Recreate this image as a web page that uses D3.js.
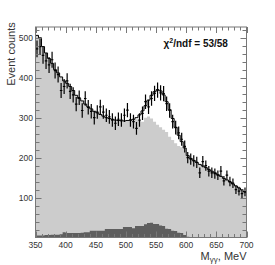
<!DOCTYPE html>
<html><head><meta charset="utf-8">
<script src="https://cdn.jsdelivr.net/npm/d3@7"></script>
<style>body{margin:0;background:#fff}svg{display:block}text{font-family:"Liberation Sans",Arial,sans-serif}</style>
</head><body>
<script>
// bin lower edges (5 MeV bins from 350 to 700)
const binEdges = d3.range(350, 700, 5);
const binWidth = 5;
// measured event counts per bin
const counts = [472,478,456,442,432,445,418,408,368,378,392,366,357,334,350,318,348,326,316,300,
  314,327,314,306,302,294,286,296,294,306,319,294,290,273,294,311,340,327,348,361,
  369,362,360,335,318,290,275,262,246,228,200,196,192,188,162,190,180,166,162,160,
  156,166,142,156,140,136,120,116,110,114];
const errors = [21,21,21,20,20,20,20,20,19,19,19,19,19,18,18,18,18,18,18,17,
  17,18,17,17,17,17,17,17,17,17,18,17,17,16,17,17,18,18,18,19,
  19,19,19,18,18,17,17,16,16,15,14,14,14,14,13,14,13,13,13,13,
  12,13,12,12,12,12,11,11,11,11];
// fit (total) histogram
const fitTotal = [506,500,478,462,448,436,420,412,402,392,386,378,368,356,348,342,334,327,322,316,
  312,308,304,300,298,296,294,293,292,292,293,294,296,300,307,317,330,344,356,365,
  370,367,357,340,320,298,276,256,240,224,205,198,193,188,183,179,175,170,166,162,
  157,153,148,144,139,134,129,124,119,114];
// non-resonant background histogram (light gray)
const bgHist = [506,500,478,462,448,436,420,412,402,392,386,378,368,356,348,342,334,327,322,316,
  312,308,304,300,298,296,294,293,292,292,293,294,296,296,292,290,300,303,298,290,
  282,276,270,264,252,244,236,229,226,222,205,198,193,188,183,179,175,170,166,162,
  157,153,148,144,139,134,129,124,119,114];
// peaking background histogram (dark gray)
const peakHist = [5,5,5,6,6,7,7,7,8,13,11,11,11,11,11,12,13,13,17,17,
  17,17,17,21,21,21,21,21,21,26,26,26,23,29,29,29,33,36,37,34,
  34,30,29,22,21,17,16,12,11,6,2,1,1,0,0,0,0,0,0,0,
  0,0,0,0,0,0,0,0,0,0];
const xTicks = [350,400,450,500,550,600,650,700];
const yTicks = [100,200,300,400,500];
const chiText = "53/58";

const W = 275, H = 265;
const L = 35.5, R = 246.5, T = 27, B = 237.5;
const svg = d3.select("body").append("svg").attr("width", W).attr("height", H);
const x = d3.scaleLinear().domain([350, 700]).range([L, R]);
const y = d3.scaleLinear().domain([0, 527]).range([B, T]);

svg.append("clipPath").attr("id","c").append("rect")
  .attr("x", L).attr("y", T).attr("width", R - L).attr("height", B - T);
const g = svg.append("g").attr("clip-path", "url(#c)");

function histPath(vals, closed) {
  let p = closed ? `M${x(350)},${y(0)}` : "";
  vals.forEach((v, i) => {
    const x0 = x(binEdges[i]), x1 = x(binEdges[i] + binWidth);
    p += (i === 0 && !closed ? "M" : "L") + `${x0},${y(v)}L${x1},${y(v)}`;
  });
  if (closed) p += `L${x(700)},${y(0)}Z`;
  return p;
}
g.append("path").attr("d", histPath(bgHist, true)).attr("fill", "#cccccc");
g.append("path").attr("d", histPath(peakHist, true)).attr("fill", "#5e5e5e");
g.append("path").attr("d", histPath(fitTotal, false)).attr("fill", "none")
  .attr("stroke", "#000").attr("stroke-width", 1);

// data points
const pts = g.append("g").attr("stroke", "#000").attr("stroke-width", 1.2);
counts.forEach((c, i) => {
  const cx = x(binEdges[i] + binWidth / 2);
  pts.append("line").attr("x1", cx).attr("x2", cx).attr("y1", y(c - errors[i])).attr("y2", y(c + errors[i]));
  pts.append("line").attr("x1", x(binEdges[i] + 0.4)).attr("x2", x(binEdges[i] + binWidth - 0.4))
    .attr("y1", y(c)).attr("y2", y(c));
});

// axes
const axCol = "#777";
const ax = svg.append("g").attr("stroke", axCol).attr("stroke-width", 1).attr("fill", "none");
ax.append("rect").attr("x", L).attr("y", T).attr("width", R - L).attr("height", B - T);
d3.range(350, 701, 10).forEach(v => {
  const major = v % 50 === 0;
  const len = major ? 6 : 3.5;
  const xx = Math.round(x(v)) + 0.5;
  ax.append("line").attr("x1", xx).attr("x2", xx).attr("y1", B).attr("y2", B - len);
  ax.append("line").attr("x1", xx).attr("x2", xx).attr("y1", T).attr("y2", T + len);
});
d3.range(20, 527, 20).forEach(v => {
  const major = v % 100 === 0;
  const len = major ? 6 : 4;
  const yy = Math.round(y(v)) + 0.5;
  ax.append("line").attr("x1", L).attr("x2", L + len).attr("y1", yy).attr("y2", yy);
  ax.append("line").attr("x1", R).attr("x2", R - len).attr("y1", yy).attr("y2", yy);
});

const lab = svg.append("g").attr("fill", "#333").attr("font-size", 8.5);
xTicks.forEach(v => lab.append("text").attr("x", x(v)).attr("y", 247.5)
  .attr("text-anchor", "middle").text(v));
yTicks.forEach(v => lab.append("text").attr("x", 33).attr("y", y(v) + 3)
  .attr("text-anchor", "end").text(v));

svg.append("text").attr("transform", "translate(15,54) rotate(-90)")
  .attr("text-anchor", "middle").attr("font-size", 11).attr("fill", "#333").text("Event counts");

const xl = svg.append("text").attr("x", 246.5).attr("y", 259.5).attr("text-anchor", "end")
  .attr("font-size", 11).attr("fill", "#333");
xl.append("tspan").text("M");
xl.append("tspan").attr("font-size", 8).attr("dy", 2).text("γγ");
xl.append("tspan").attr("dy", -2).text(", MeV");

const ct = svg.append("text").attr("x", 163.5).attr("y", 47).attr("font-size", 10)
  .attr("font-weight", "bold").attr("fill", "#111");
ct.append("tspan").text("χ");
ct.append("tspan").attr("font-size", 7).attr("dy", -4).text("2");
ct.append("tspan").attr("dy", 4).text("/ndf = " + chiText);
</script>
</body></html>
